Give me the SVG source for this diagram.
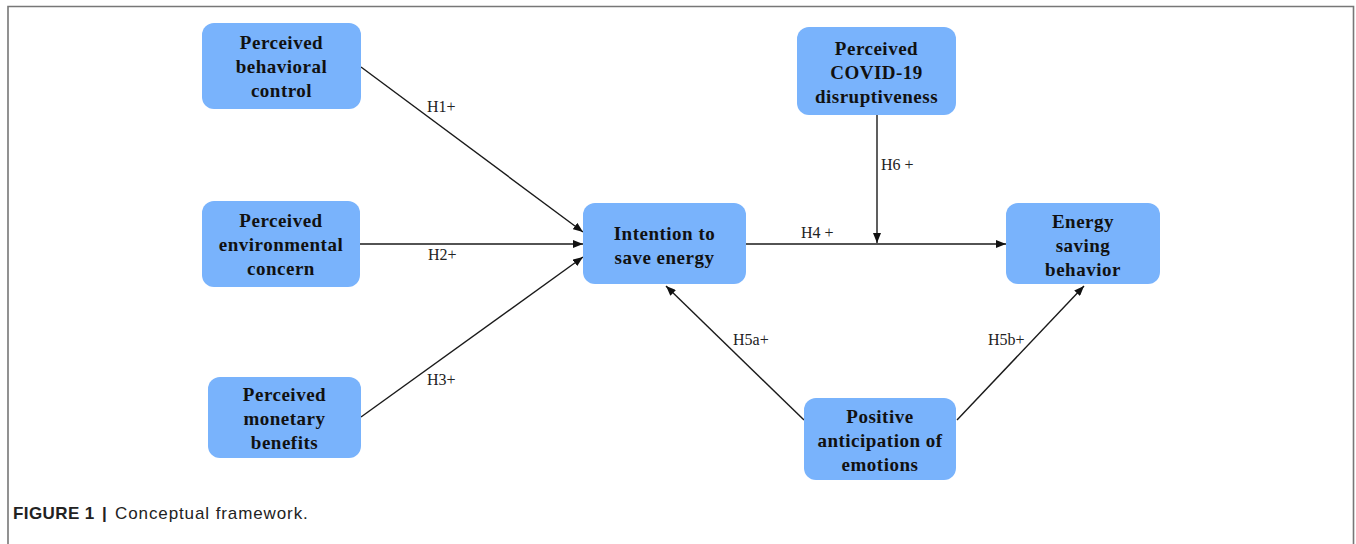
<svg xmlns="http://www.w3.org/2000/svg" width="1356" height="544" viewBox="0 0 1356 544">
<style>
.node rect{fill:#79b3fc;}
.node text{font-family:"Liberation Serif","Times New Roman",serif;font-weight:bold;font-size:19px;letter-spacing:0.5px;fill:#111;text-anchor:middle;}
.lbl{font-family:"Liberation Serif","Times New Roman",serif;font-size:16px;fill:#222;}
.edge{stroke:#1a1a1a;stroke-width:1.4;fill:none;}
.cap{font-family:"Liberation Sans",Arial,sans-serif;font-size:17px;fill:#222;}
</style>
<defs>
<marker id="arr" markerUnits="userSpaceOnUse" markerWidth="10" markerHeight="8" refX="10" refY="4" orient="auto">
<path d="M0,0 L10,4 L0,8 z" fill="#111"/>
</marker>
</defs>
<path d="M8,544 V6.5 H1353.5 V544" fill="none" stroke="#777" stroke-width="1.6"/>
<g id="connectors">
<line class="edge" x1="361" y1="67" x2="583" y2="232" marker-end="url(#arr)"/>
<line class="edge" x1="360" y1="244" x2="583" y2="244" marker-end="url(#arr)"/>
<line class="edge" x1="361" y1="417" x2="583" y2="257" marker-end="url(#arr)"/>
<line class="edge" x1="746" y1="244" x2="1006" y2="244" marker-end="url(#arr)"/>
<line class="edge" x1="877" y1="115" x2="877" y2="243" marker-end="url(#arr)"/>
<line class="edge" x1="804" y1="420" x2="666" y2="286" marker-end="url(#arr)"/>
<line class="edge" x1="957" y1="420" x2="1084" y2="286" marker-end="url(#arr)"/>
<text class="lbl" x="427" y="112">H1+</text>
<text class="lbl" x="428" y="260">H2+</text>
<text class="lbl" x="427" y="385">H3+</text>
<text class="lbl" x="801" y="238">H4 +</text>
<text class="lbl" x="881" y="170">H6 +</text>
<text class="lbl" x="733" y="345">H5a+</text>
<text class="lbl" x="988" y="345">H5b+</text>
</g>
<g id="pbc" class="node">
<rect x="202" y="23" width="159" height="86" rx="12"/>
<text x="281.5" y="49">Perceived</text>
<text x="281.5" y="73">behavioral</text>
<text x="281.5" y="97">control</text>
</g>
<g id="pec" class="node">
<rect x="202" y="201" width="158" height="86" rx="12"/>
<text x="281" y="227">Perceived</text>
<text x="281" y="251">environmental</text>
<text x="281" y="275">concern</text>
</g>
<g id="pmb" class="node">
<rect x="208" y="377" width="153" height="81" rx="12"/>
<text x="284.5" y="401">Perceived</text>
<text x="284.5" y="425">monetary</text>
<text x="284.5" y="449">benefits</text>
</g>
<g id="itse" class="node">
<rect x="583" y="203" width="163" height="81" rx="12"/>
<text x="664.5" y="240">Intention to</text>
<text x="664.5" y="264">save energy</text>
</g>
<g id="covid" class="node">
<rect x="797" y="27" width="159" height="88" rx="12"/>
<text x="876.5" y="55">Perceived</text>
<text x="876.5" y="79">COVID-19</text>
<text x="876.5" y="103">disruptiveness</text>
</g>
<g id="esb" class="node">
<rect x="1006" y="203" width="154" height="81" rx="12"/>
<text x="1083" y="228">Energy</text>
<text x="1083" y="252">saving</text>
<text x="1083" y="276">behavior</text>
</g>
<g id="pae" class="node">
<rect x="804" y="398" width="152" height="82" rx="12"/>
<text x="880" y="423">Positive</text>
<text x="880" y="447">anticipation of</text>
<text x="880" y="471">emotions</text>
</g>
<text class="cap" x="13" y="519"><tspan font-weight="bold" letter-spacing="0.4">FIGURE 1</tspan><tspan font-weight="bold" x="102">|</tspan><tspan x="115" letter-spacing="0.9">Conceptual framework.</tspan></text>
</svg>
